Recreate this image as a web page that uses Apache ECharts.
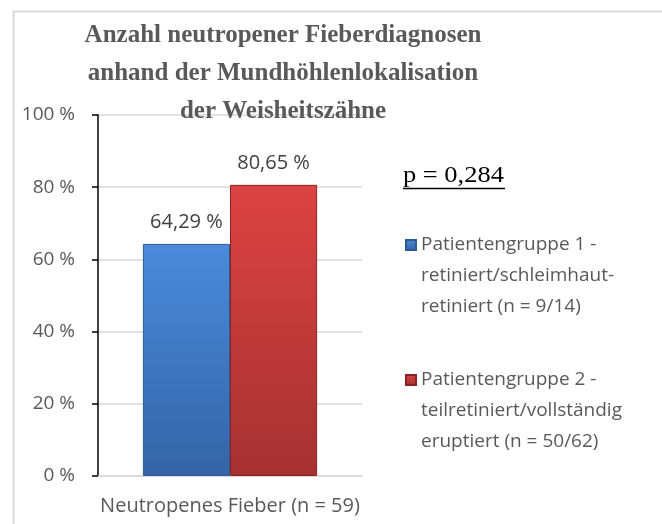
<!DOCTYPE html>
<html>
<head>
<meta charset="utf-8">
<script src="https://cdn.jsdelivr.net/npm/echarts@6/dist/echarts.min.js"></script>
<style>
  html, body { margin: 0; padding: 0; background: #fff; }
  #container { width: 662px; height: 524px; }
</style>
</head>
<body>
<div id="container"></div>
<script>
var dom = document.getElementById("container");
var myChart = echarts.init(dom);

// data
var categories = ["Neutropenes Fieber (n = 59)"];
var groupNames = [
  "Patientengruppe 1 -\nretiniert/schleimhaut-\nretiniert (n = 9/14)",
  "Patientengruppe 2 -\nteilretiniert/vollständig\neruptiert (n = 50/62)"
];
var group1Values = [64.29];
var group2Values = [80.65];
var yTicks = [0, 20, 40, 60, 80, 100];
var titleText = "Anzahl neutropener Fieberdiagnosen\nanhand der Mundhöhlenlokalisation\nder Weisheitszähne";
var pText = "p = 0,284";

var sansFont = "Open Sans";
var grey = "#595959";

function pct(v) {
  return v.toFixed(2).replace(".", ",") + " %";
}

var blueFill = new echarts.graphic.LinearGradient(0, 0, 0, 1, [
  { offset: 0, color: "#4a8bdb" },
  { offset: 1, color: "#3464a6" }
]);
var redFill = new echarts.graphic.LinearGradient(0, 0, 0, 1, [
  { offset: 0, color: "#dd4343" },
  { offset: 1, color: "#a53131" }
]);

// two blank lines in front so the icon sits level with the first line
function legendFormatter(name) {
  return "\n\n" + name;
}

var legendText = {
  fontFamily: sansFont,
  fontSize: 19,
  color: grey,
  lineHeight: 31
};

function makeLegend(name, iconCenterY) {
  return {
    data: [name],
    orient: "vertical",
    left: 405,
    top: iconCenterY - 77.5,
    padding: 0,
    icon: "rect",
    itemWidth: 10,
    itemHeight: 10,
    itemGap: 0,
    formatter: legendFormatter,
    textStyle: legendText
  };
}

var barLabel = {
  show: true,
  position: "top",
  distance: 12,
  fontFamily: sansFont,
  fontSize: 20,
  color: "#404040",
  formatter: function (p) { return pct(p.value); }
};

var option = {
  backgroundColor: "#fff",
  animation: false,
  title: {
    text: titleText,
    left: 278,
    textAlign: "center",
    top: 12,
    textStyle: {
      fontFamily: "Liberation Serif",
      fontWeight: "bold",
      fontSize: 25,
      lineHeight: 38,
      color: grey
    }
  },
  legend: [
    makeLegend(groupNames[0], 245),
    makeLegend(groupNames[1], 380)
  ],
  grid: {
    left: 98,
    right: 300,
    top: 115,
    bottom: 48
  },
  xAxis: {
    type: "category",
    data: categories,
    axisLine: { lineStyle: { color: "#d9d9d9", width: 1.5 } },
    axisTick: { show: false },
    axisLabel: {
      fontFamily: sansFont,
      fontSize: 20,
      color: grey,
      margin: 20
    }
  },
  yAxis: {
    type: "value",
    min: yTicks[0],
    max: yTicks[yTicks.length - 1],
    interval: yTicks[1] - yTicks[0],
    axisLine: { show: true, lineStyle: { color: "#000", width: 1.5 } },
    axisTick: { show: true, inside: false, length: 6, lineStyle: { color: "#000", width: 1.5 } },
    axisLabel: {
      fontFamily: sansFont,
      fontSize: 19,
      color: grey,
      margin: 23,
      formatter: "{value} %"
    },
    splitLine: { lineStyle: { color: "#d9d9d9", width: 1.5 } }
  },
  series: [
    {
      type: "bar",
      name: groupNames[0],
      data: group1Values,
      barWidth: "33%",
      barGap: "0%",
      itemStyle: { color: blueFill, borderColor: "#2e5a96", borderWidth: 1 },
      label: barLabel
    },
    {
      type: "bar",
      name: groupNames[1],
      data: group2Values,
      barWidth: "33%",
      barGap: "0%",
      itemStyle: { color: redFill, borderColor: "#8a2424", borderWidth: 1 },
      label: barLabel
    }
  ],
  graphic: [
    {
      type: "rect",
      left: 11,
      top: 9,
      z: -10,
      shape: { width: 700, height: 600 },
      style: { fill: "none", stroke: "#d9d9d9", lineWidth: 2 }
    },
    {
      type: "text",
      x: 403,
      y: 164,
      scaleX: 1.15,
      style: {
        text: pText,
        fontFamily: "Liberation Serif",
        fontSize: 23,
        fill: "#000"
      }
    },
    {
      type: "line",
      shape: { x1: 403, y1: 188.5, x2: 505, y2: 188.5 },
      style: { stroke: "#000", lineWidth: 1.5 }
    }
  ]
};

myChart.setOption(option);
</script>
</body>
</html>
